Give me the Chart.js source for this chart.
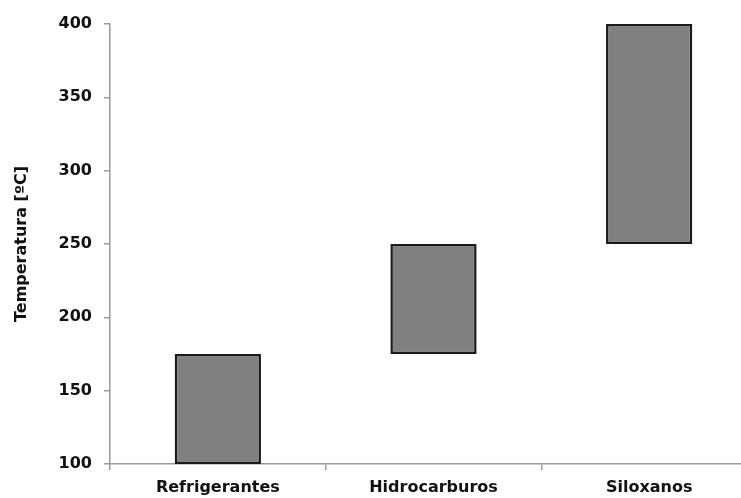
<!DOCTYPE html>
<html>
<head>
<meta charset="utf-8">
<script src="https://cdn.jsdelivr.net/npm/chart.js@4/dist/chart.umd.min.js"></script>
<style>
  html, body { margin: 0; padding: 0; background: #fff; overflow: hidden; }
  #wrap { width: 760px; height: 498px; }
</style>
</head>
<body>
<div id="wrap"><canvas id="c" width="760" height="498"></canvas></div>
<script>
const categories = ['Refrigerantes', 'Hidrocarburos', 'Siloxanos']
const lowTemps = [100, 175, 250]
const highTemps = [175, 250, 400]
const yTicks = [100, 150, 200, 250, 300, 350, 400]

let ranges = categories.map((c, i) => [lowTemps[i], highTemps[i]])

const axisGray = '#9a9a9a'
const font = {family: '"DejaVu Sans", Verdana, sans-serif', size: 16, weight: 'bold'}

new Chart(document.getElementById('c'), {
    type: 'bar',
    data: {
        labels: categories,
        datasets: [{
            data: ranges,
            backgroundColor: '#808080',
            borderColor: '#1a1a1a',
            borderWidth: 2.5,
            borderSkipped: false,
            barPercentage: 0.4,
            categoryPercentage: 1
        }]
    },
    options: {
        responsive: false,
        animation: false,
        layout: {padding: {top: 24, right: 3, left: 0, bottom: 0}},
        plugins: {legend: {display: false}, tooltip: {enabled: false}},
        scales: {
            x: {
                grid: {offset: true, drawOnChartArea: false, color: axisGray, tickLength: 6, lineWidth: 1.5},
                border: {color: axisGray, width: 1.5},
                ticks: {color: '#111', font: font, padding: 8, maxRotation: 0},
                afterFit: (s) => { s.height = 34 }
            },
            y: {
                min: 100,
                max: 400,
                afterBuildTicks: (s) => { s.ticks = yTicks.map(v => ({value: v})) },
                grid: {drawOnChartArea: false, color: axisGray, tickLength: 6, lineWidth: 1.5},
                border: {color: axisGray, width: 1.5},
                ticks: {color: '#111', font: font, padding: 12},
                title: {
                    display: true,
                    text: 'Temperatura [ºC]',
                    color: '#111',
                    font: {family: '"DejaVu Sans", Verdana, sans-serif', size: 16, weight: 'bold'},
                    padding: {top: 12, bottom: 0}
                },
                afterFit: (s) => { s.width = 110 }
            }
        }
    }
})
</script>
</body>
</html>
